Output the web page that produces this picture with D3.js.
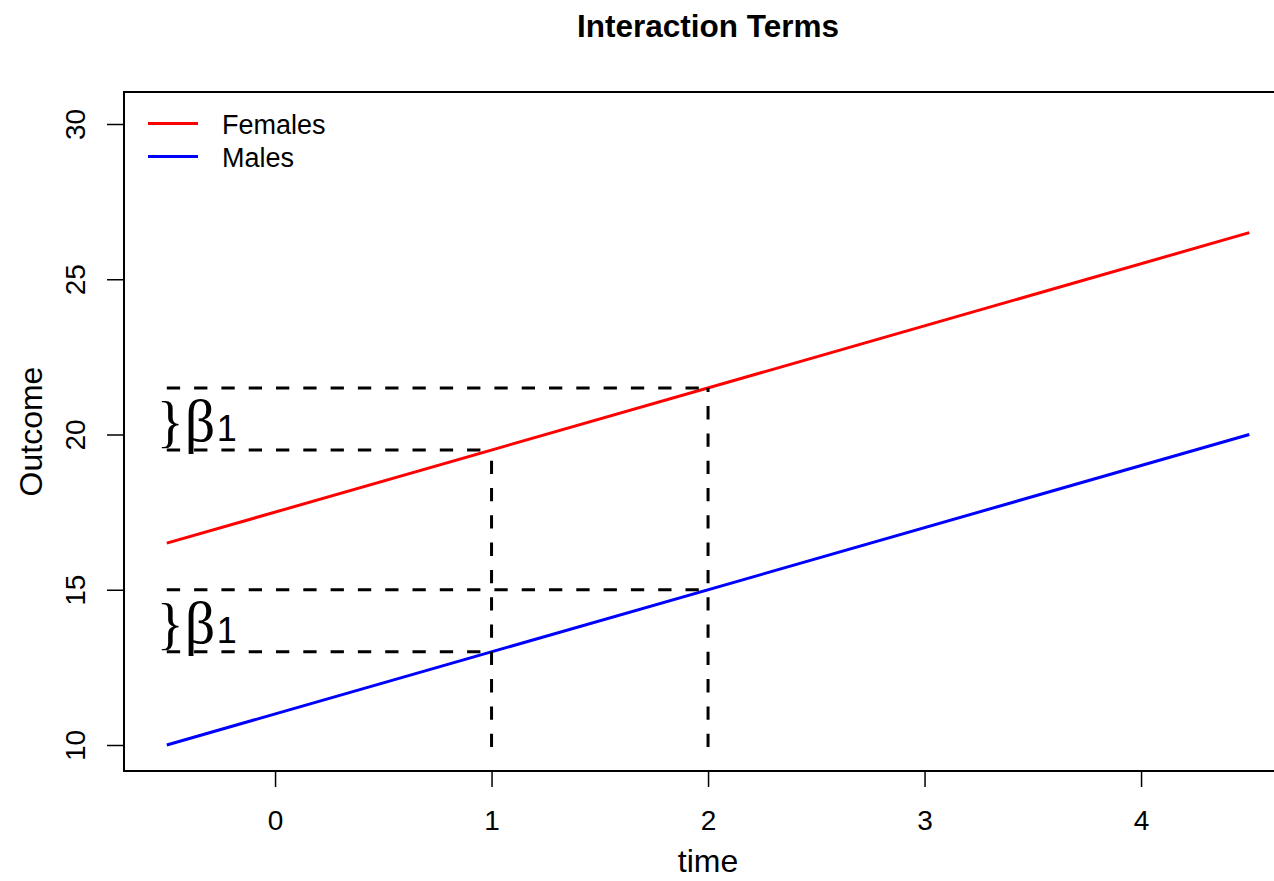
<!DOCTYPE html>
<html>
<head>
<meta charset="utf-8">
<script src="https://cdn.jsdelivr.net/npm/d3@7"></script>
<style>
  body { margin: 0; background: #fff; }
  svg { display: block; }
  text { font-family: "Liberation Sans", Arial, Helvetica, sans-serif; fill: #000; }
</style>
</head>
<body>
<svg id="chart" width="1274" height="881"></svg>
<script>
// ---- data ----
const time = [-0.5, 4.5];
const females = [16.5, 26.5];
const males = [10, 20];
const seriesNames = ["Females", "Males"];
const seriesColors = ["#ff0000", "#0000ff"];
const xTicks = [0, 1, 2, 3, 4];
const yTicks = [10, 15, 20, 25, 30];
// dashed guide segments
const hSegY = [21.5, 19.5, 15, 13];
const hSegX0 = [-0.5, -0.5, -0.5, -0.5];
const hSegX1 = [2, 1, 2, 1];
const vSegX = [1, 2];
const vSegY0 = [10, 10];
const vSegY1 = [19.5, 21.5];
const betaLabelX = [-0.5, -0.5];
const betaLabelY = [20.5, 14];

(function () {
const svg = d3.select("#chart");
const pL = 124, pR = 1292, pT = 92, pB = 771;

const x = d3.scaleLinear().domain([-0.7, 4.7]).range([123.5, 1292.6]);
const y = d3.scaleLinear().domain([10, 30]).range([745, 124]);

// title
svg.append("text").attr("x", (pL + pR) / 2).attr("y", 37)
  .attr("text-anchor", "middle").style("font-weight", "bold").style("font-size", "31.5px")
  .text("Interaction Terms");

// x axis
const xAxis = svg.append("g").attr("transform", `translate(0,${pB})`)
  .call(d3.axisBottom(x).tickValues(xTicks).tickSize(16).tickPadding(20).tickFormat(d3.format("d")));
xAxis.select(".domain").remove();
xAxis.attr("font-family", null).attr("font-size", null);
xAxis.selectAll(".tick line").attr("stroke", "#000").attr("stroke-width", 1.5);
xAxis.selectAll(".tick text").style("font-size", "28px").attr("dy", null).attr("y", 59);

// y axis
const yAxis = svg.append("g").attr("transform", `translate(${pL},0)`)
  .call(d3.axisLeft(y).tickValues(yTicks).tickSize(17).tickFormat(d3.format("d")));
yAxis.select(".domain").remove();
yAxis.attr("font-family", null).attr("font-size", null);
yAxis.selectAll(".tick line").attr("stroke", "#000").attr("stroke-width", 1.5);
yAxis.selectAll(".tick text")
  .attr("x", null).attr("dy", null)
  .attr("text-anchor", "middle")
  .attr("transform", `translate(${85 - pL},0) rotate(-90)`)
  .style("font-size", "28px");

// axis titles
svg.append("text").attr("x", (pL + pR) / 2).attr("y", 872)
  .attr("text-anchor", "middle").style("font-size", "32px").text("time");
svg.append("text").attr("transform", `translate(42,${(pT + pB) / 2}) rotate(-90)`)
  .attr("text-anchor", "middle").style("font-size", "32px").text("Outcome");

// series lines
const line = d3.line().x(d => x(d[0])).y(d => y(d[1]));
[females, males].forEach((vals, i) => {
  svg.append("path")
    .datum(time.map((t, j) => [t, vals[j]]))
    .attr("d", line).attr("fill", "none")
    .attr("stroke", seriesColors[i]).attr("stroke-width", 3);
});

// dashed segments
const dash = "13.3,14";
hSegY.forEach((yy, i) => {
  svg.append("line")
    .attr("x1", x(hSegX0[i])).attr("x2", x(hSegX1[i]))
    .attr("y1", y(yy)).attr("y2", y(yy))
    .attr("stroke", "#000").attr("stroke-width", 3).attr("stroke-dasharray", dash);
});
vSegX.forEach((xx, i) => {
  svg.append("line")
    .attr("x1", x(xx)).attr("x2", x(xx))
    .attr("y1", y(vSegY0[i]) + 2).attr("y2", y(vSegY1[i]))
    .attr("stroke", "#000").attr("stroke-width", 3).attr("stroke-dasharray", dash);
});

// beta labels
betaLabelX.forEach((bx, i) => {
  const px = x(bx), py = y(betaLabelY[i]) + 22;
  const g = svg.append("g");
  g.append("text").attr("x", px - 10).attr("y", py)
    .style("font-family", "'Liberation Serif', 'Times New Roman', serif").style("font-size", "56px").text("}");
  g.append("text").attr("x", px + 18).attr("y", py)
    .style("font-family", "'Liberation Serif', 'Times New Roman', serif").style("font-size", "60px").text("β");
  g.append("text").attr("x", px + 50).attr("y", py)
    .style("font-size", "36px").text("1");
});

// box
svg.append("rect").attr("x", pL).attr("y", pT)
  .attr("width", pR - pL).attr("height", pB - pT)
  .attr("fill", "none").attr("stroke", "#000").attr("stroke-width", 2);

// legend
const legY = [123.5, 156.5];
seriesNames.forEach((name, i) => {
  svg.append("line").attr("x1", 148).attr("x2", 198)
    .attr("y1", legY[i]).attr("y2", legY[i])
    .attr("stroke", seriesColors[i]).attr("stroke-width", 3);
  svg.append("text").attr("x", 222).attr("y", legY[i] + 10)
    .style("font-size", "27px").text(name);
});
})();
</script>
</body>
</html>
